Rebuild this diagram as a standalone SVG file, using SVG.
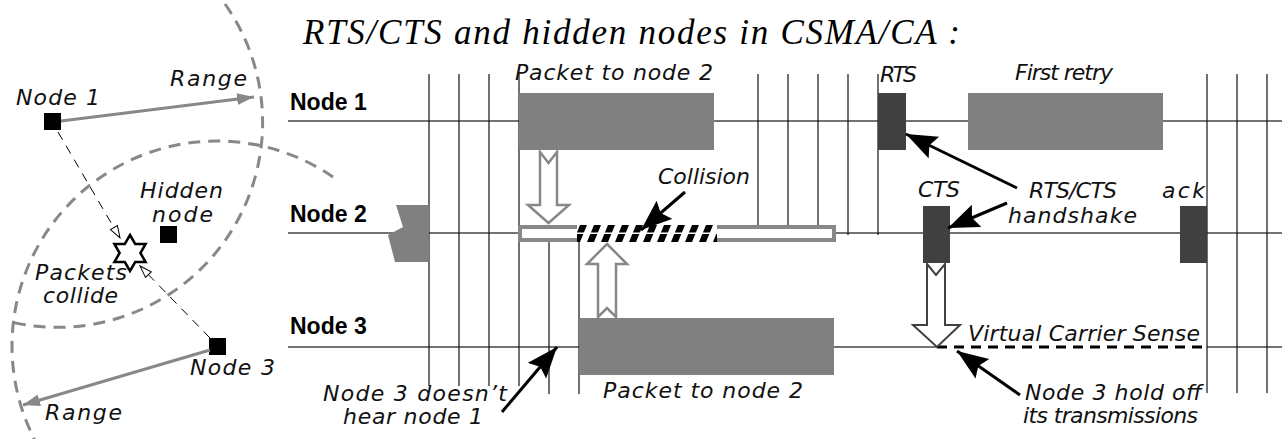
<svg xmlns="http://www.w3.org/2000/svg" width="1282" height="439" viewBox="0 0 1282 439">
<style>
.lbl{font-family:"DejaVu Sans","Liberation Sans",sans-serif;font-style:italic;font-size:22px;fill:#111;}
.bold{font-family:"Liberation Sans",Arial,sans-serif;font-weight:bold;font-size:23px;fill:#000;}
.title{font-family:"Liberation Serif","Times New Roman",serif;font-style:italic;font-size:35px;fill:#000;}
.hline{stroke:#444;stroke-width:1.5;fill:none;}
.vline{stroke:#111;stroke-width:1.2;fill:none;}
.pkt{fill:#808080;}
.ctl{fill:#404040;}
.range{stroke:#888;stroke-width:3;fill:none;stroke-dasharray:12 8;}
.rarrow{stroke:#888;stroke-width:3;fill:none;}
.thin{stroke:#000;stroke-width:1;fill:none;stroke-dasharray:9 7;}
.callout{stroke:#000;stroke-width:3;fill:none;}
.block{fill:#fff;stroke:#888;stroke-width:2.5;}
</style>
<defs>
<marker id="bh" markerUnits="userSpaceOnUse" markerWidth="34" markerHeight="26" refX="31" refY="12" orient="auto">
<path d="M0,0 L31,12 L0,24 L5,12 z" fill="#000"/>
</marker>
<marker id="gh" markerUnits="userSpaceOnUse" markerWidth="18" markerHeight="14" refX="17" refY="6" orient="auto">
<path d="M0,0 L17,6 L0,12 z" fill="#888"/>
</marker>
<marker id="oh" markerUnits="userSpaceOnUse" markerWidth="16" markerHeight="12" refX="13" refY="5" orient="auto">
<path d="M1,1 L13,5 L1,9 z" fill="#fff" stroke="#000" stroke-width="1"/>
</marker>
<pattern id="hatch" patternUnits="userSpaceOnUse" x="577" y="225" width="14" height="17">
<rect width="14" height="17" fill="#fff"/>
<polygon points="-4,17 3,17 10,0 3,0" fill="#000"/>
<polygon points="10,17 17,17 24,0 17,0" fill="#000"/>
<rect x="0" y="7.5" width="14" height="1.5" fill="#fff"/>
</pattern>
</defs>

<rect width="1282" height="439" fill="#fff"/>

<text class="title" x="303" y="44" textLength="657" lengthAdjust="spacing">RTS/CTS and hidden nodes in CSMA/CA :</text>

<!-- left panel: ranges -->
<g id="ranges">
<path class="range" d="M225,4 A205,205 0 0 1 7,321"/>
<path class="range" d="M333,177 A205,205 0 0 0 34.3,439"/>
</g>

<!-- timeline base lines -->
<g id="timeline-lines">
<line class="hline" x1="288" y1="121" x2="1282" y2="121"/>
<line class="hline" x1="288" y1="233" x2="1282" y2="233"/>
<line class="hline" x1="288" y1="347" x2="937" y2="347"/>
<line class="hline" x1="1207" y1="347" x2="1282" y2="347"/>
<line class="vline" x1="429" y1="74" x2="429" y2="386"/>
<line class="vline" x1="459" y1="74" x2="459" y2="386"/>
<line class="vline" x1="489" y1="74" x2="489" y2="386"/>
<line class="vline" x1="519" y1="74" x2="519" y2="386"/>
<line class="vline" x1="549" y1="242" x2="549" y2="394"/>
<line class="vline" x1="579" y1="242" x2="579" y2="394"/>
<line class="vline" x1="758" y1="74" x2="758" y2="226"/>
<line class="vline" x1="788" y1="74" x2="788" y2="226"/>
<line class="vline" x1="818" y1="74" x2="818" y2="226"/>
<line class="vline" x1="848" y1="74" x2="848" y2="235"/>
<line class="vline" x1="878" y1="74" x2="878" y2="235"/>
<line class="vline" x1="1207" y1="74" x2="1207" y2="393"/>
<line class="vline" x1="1237" y1="74" x2="1237" y2="393"/>
<line class="vline" x1="1267" y1="74" x2="1267" y2="393"/>
</g>

<!-- left panel nodes -->
<g id="node1">
<rect x="44" y="113" width="17" height="17" fill="#000"/>
<text class="lbl" x="16" y="105" textLength="84" lengthAdjust="spacing">Node 1</text>
</g>
<g id="hidden-node">
<rect x="160" y="226" width="17" height="17" fill="#000"/>
<text class="lbl" x="140" y="198" textLength="83" lengthAdjust="spacing">Hidden</text>
<text class="lbl" x="152" y="222" textLength="61" lengthAdjust="spacing">node</text>
</g>
<g id="node3">
<rect x="209" y="338" width="17" height="17" fill="#000"/>
<text class="lbl" x="190" y="375" textLength="85" lengthAdjust="spacing">Node 3</text>
</g>
<g id="collision-star">
<polygon points="130,235 135.2,244 145.6,244 140.4,253 145.6,262 135.2,262 130,271 124.8,262 114.4,262 119.6,253 114.4,244 124.8,244" fill="#fff" stroke="#000" stroke-width="2.5" stroke-linejoin="miter"/>
<text class="lbl" x="35" y="280" textLength="92" lengthAdjust="spacing">Packets</text>
<text class="lbl" x="43" y="303" textLength="75" lengthAdjust="spacing">collide</text>
</g>
<g id="range-labels">
<text class="lbl" x="170" y="86" textLength="77" lengthAdjust="spacing">Range</text>
<text class="lbl" x="45" y="420" textLength="77" lengthAdjust="spacing">Range</text>
</g>

<!-- timeline rows -->
<g id="row-node1">
<text class="bold" x="290" y="110">Node 1</text>
<rect class="pkt" x="519" y="93" width="195" height="57"/>
<rect class="ctl" x="878" y="93" width="28" height="57"/>
<rect class="pkt" x="968" y="93" width="195" height="57"/>
<text class="lbl" x="515" y="80" textLength="198" lengthAdjust="spacing">Packet to node 2</text>
<text class="lbl" x="880" y="82" textLength="37" lengthAdjust="spacing">RTS</text>
<text class="lbl" x="1015" y="80" textLength="98" lengthAdjust="spacing">First retry</text>
</g>
<g id="row-node2">
<text class="bold" x="290" y="222">Node 2</text>
<polygon class="pkt" points="396,205 403,227 388,235 395,262 429,262 429,205"/>
<rect x="520" y="227" width="314" height="13" fill="#fff" stroke="#888" stroke-width="4"/>
<rect x="577" y="225" width="140" height="17" fill="url(#hatch)"/>
<rect class="ctl" x="923" y="206" width="27" height="57"/>
<rect class="ctl" x="1180" y="206" width="27" height="57"/>
<text class="lbl" x="658" y="184" textLength="92" lengthAdjust="spacing">Collision</text>
<text class="lbl" x="918" y="197" textLength="42" lengthAdjust="spacing">CTS</text>
<text class="lbl" x="1029" y="198" textLength="88" lengthAdjust="spacing">RTS/CTS</text>
<text class="lbl" x="1008" y="223" textLength="129" lengthAdjust="spacing">handshake</text>
<text class="lbl" x="1162" y="198" textLength="43" lengthAdjust="spacing">ack</text>
</g>
<g id="row-node3">
<text class="bold" x="290" y="334">Node 3</text>
<rect class="pkt" x="579" y="318" width="255" height="57"/>
<line x1="937" y1="347" x2="1207" y2="347" stroke="#000" stroke-width="3" stroke-dasharray="10 7"/>
<text class="lbl" x="968" y="341" textLength="232" lengthAdjust="spacing">Virtual Carrier Sense</text>
<text class="lbl" x="603" y="398" textLength="200" lengthAdjust="spacing">Packet to node 2</text>
<text class="lbl" x="323" y="401" textLength="184" lengthAdjust="spacing">Node 3 doesn’t</text>
<text class="lbl" x="343" y="424" textLength="140" lengthAdjust="spacing">hear node 1</text>
<text class="lbl" x="1025" y="400" textLength="177" lengthAdjust="spacing">Node 3 hold off</text>
<text class="lbl" x="1023" y="423" textLength="175" lengthAdjust="spacing">its transmissions</text>
</g>

<!-- connectors -->
<g id="connectors">
<line class="rarrow" x1="61" y1="121" x2="254" y2="97" marker-end="url(#gh)"/>
<line class="rarrow" x1="210" y1="350" x2="23" y2="405" marker-end="url(#gh)"/>
<line class="thin" x1="58" y1="132" x2="120" y2="238" marker-end="url(#oh)"/>
<line class="thin" x1="210" y1="338" x2="140" y2="266" marker-end="url(#oh)"/>
<polygon class="block" points="540,152 548.5,163 557,152 557,205 569,205 548.5,223 528,205 540,205"/>
<polygon class="block" points="607,244 627,264 616,264 616,317 607,308 598,317 598,264 587,264"/>
<polygon class="block" style="stroke:#404040;stroke-width:2" points="927,264 936,275 945,264 945,325 960,325 937,347 913,325 927,325"/>
<line class="callout" x1="685" y1="192" x2="641" y2="230" marker-end="url(#bh)"/>
<line class="callout" x1="1017" y1="188" x2="906" y2="134" marker-end="url(#bh)"/>
<line class="callout" x1="1007" y1="203" x2="948" y2="228" marker-end="url(#bh)"/>
<line class="callout" x1="502" y1="412" x2="557" y2="347" marker-end="url(#bh)"/>
<line class="callout" x1="1020" y1="395" x2="957" y2="351" marker-end="url(#bh)"/>
</g>
</svg>
